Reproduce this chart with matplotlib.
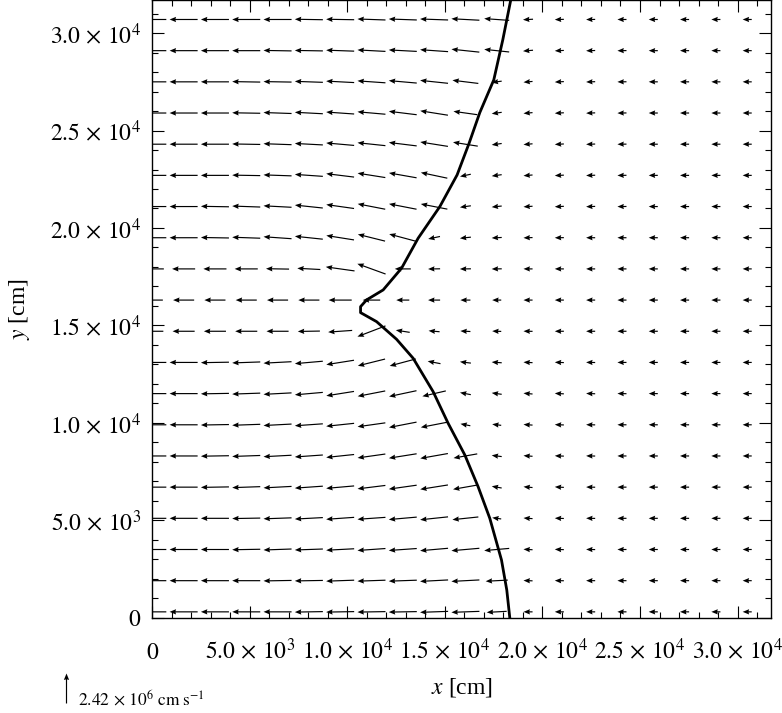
import numpy as np
import matplotlib
matplotlib.use('Agg')
import matplotlib.pyplot as plt
from matplotlib.ticker import MultipleLocator

plt.rcParams['font.family'] = 'serif'
plt.rcParams['font.serif'] = ['Liberation Serif', 'DejaVu Serif']
plt.rcParams['mathtext.fontset'] = 'stix'

# grid of the velocity field (cm)
x_cols = [0, 1605, 3210, 4815, 6420, 8025, 9630, 11235, 12840, 14445,
          16050, 17655, 19260, 20865, 22470, 24075, 25680, 27285, 28890, 30495]
y_rows = [300, 1900, 3500, 5100, 6700, 8300, 9900, 11500, 13100, 14700,
          16300, 17900, 19500, 21100, 22700, 24300, 25900, 27500, 29100, 30700]

# speed in 1e5 cm/s, one row per y_rows entry (bottom to top)
speed = [
    [22.6, 22.6, 22.6, 22.6, 22.6, 22.6, 22.6, 22.6, 22.6, 22.6, 22.6, 16.1, 7.3, 7.3, 7.3, 7.3, 7.3, 7.3, 7.3, 7.3],
    [22.6, 22.6, 22.6, 22.6, 22.6, 22.6, 22.6, 22.6, 22.6, 22.6, 22.6, 17.8, 7.3, 7.3, 7.3, 7.3, 7.3, 7.3, 7.3, 7.3],
    [22.6, 22.6, 22.6, 22.6, 22.6, 22.6, 22.6, 22.6, 22.6, 22.6, 22.6, 20.2, 7.3, 7.3, 7.3, 7.3, 7.3, 7.3, 7.3, 7.3],
    [22.6, 22.6, 22.6, 22.6, 22.6, 22.6, 22.6, 22.6, 22.6, 22.6, 21.0, 7.3, 7.3, 7.3, 7.3, 7.3, 7.3, 7.3, 7.3, 7.3],
    [22.6, 22.6, 22.6, 22.6, 22.6, 22.6, 22.6, 22.6, 22.6, 22.6, 20.2, 8.1, 7.3, 7.3, 7.3, 7.3, 7.3, 7.3, 7.3, 7.3],
    [22.6, 22.6, 22.6, 22.6, 22.6, 22.6, 22.6, 22.6, 22.6, 22.6, 19.4, 8.1, 7.3, 7.3, 7.3, 7.3, 7.3, 7.3, 7.3, 7.3],
    [22.6, 22.6, 22.6, 22.6, 22.6, 22.6, 22.6, 22.6, 22.6, 21.8, 8.1, 7.3, 7.3, 7.3, 7.3, 7.3, 7.3, 7.3, 7.3, 7.3],
    [22.6, 22.6, 22.6, 22.6, 22.6, 22.6, 22.6, 22.6, 22.6, 19.4, 8.9, 8.1, 7.3, 7.3, 7.3, 7.3, 7.3, 7.3, 7.3, 7.3],
    [22.6, 22.6, 22.6, 22.6, 22.6, 22.6, 22.6, 22.6, 21.8, 10.5, 8.9, 8.1, 7.3, 7.3, 7.3, 7.3, 7.3, 7.3, 7.3, 7.3],
    [17.8, 17.8, 17.8, 17.8, 17.8, 17.8, 19.4, 24.2, 11.3, 8.9, 8.1, 7.3, 7.3, 7.3, 7.3, 7.3, 7.3, 7.3, 7.3, 7.3],
    [17.0, 17.0, 17.0, 17.0, 17.0, 17.0, 18.6, 14.1, 10.5, 9.7, 8.1, 7.3, 7.3, 7.3, 7.3, 7.3, 7.3, 7.3, 7.3, 7.3],
    [18.6, 18.6, 18.6, 18.6, 18.6, 18.6, 23.4, 24.2, 12.9, 9.7, 8.9, 8.1, 7.3, 7.3, 7.3, 7.3, 7.3, 7.3, 7.3, 7.3],
    [22.6, 22.6, 22.6, 22.6, 22.6, 22.6, 22.6, 22.6, 22.6, 9.7, 8.9, 8.1, 7.3, 7.3, 7.3, 7.3, 7.3, 7.3, 7.3, 7.3],
    [22.6, 22.6, 22.6, 22.6, 22.6, 22.6, 22.6, 22.6, 22.6, 21.8, 8.9, 8.1, 7.3, 7.3, 7.3, 7.3, 7.3, 7.3, 7.3, 7.3],
    [22.6, 22.6, 22.6, 22.6, 22.6, 22.6, 22.6, 22.6, 22.6, 21.8, 8.9, 8.1, 7.3, 7.3, 7.3, 7.3, 7.3, 7.3, 7.3, 7.3],
    [22.6, 22.6, 22.6, 22.6, 22.6, 22.6, 22.6, 22.6, 22.6, 22.6, 20.2, 8.1, 7.3, 7.3, 7.3, 7.3, 7.3, 7.3, 7.3, 7.3],
    [22.6, 22.6, 22.6, 22.6, 22.6, 22.6, 22.6, 22.6, 22.6, 22.6, 19.4, 8.1, 7.3, 7.3, 7.3, 7.3, 7.3, 7.3, 7.3, 7.3],
    [22.6, 22.6, 22.6, 22.6, 22.6, 22.6, 22.6, 22.6, 22.6, 22.6, 21.0, 8.1, 7.3, 7.3, 7.3, 7.3, 7.3, 7.3, 7.3, 7.3],
    [22.6, 22.6, 22.6, 22.6, 22.6, 22.6, 22.6, 22.6, 22.6, 22.6, 22.6, 20.2, 8.1, 7.3, 7.3, 7.3, 7.3, 7.3, 7.3, 7.3],
    [22.6, 22.6, 22.6, 22.6, 22.6, 22.6, 22.6, 22.6, 22.6, 22.6, 22.6, 20.2, 8.1, 7.3, 7.3, 7.3, 7.3, 7.3, 7.3, 7.3],
]

# tilt of each arrow from pointing straight left, degrees (+ = head up)
tilt = [
    [0, 0, 0, 0, 0, -1, -1, -1, -1, -2, -2, -3, 0, 0, 0, 0, 0, 0, 0, 0],
    [0, 0, 0, 0, -1, -1, -2, -2, -2, -3, -3, -3, 2, 1, 0, 0, 0, 0, 0, 0],
    [0, 0, 0, -1, -2, -2, -3, -4, -4, -5, -5, -5, 3, 2, 1, 0, 0, 0, 0, 0],
    [0, 0, 0, -1, -2, -3, -4, -4, -5, -6, -6, 8, 4, 2, 1, 0, 0, 0, 0, 0],
    [0, 0, -1, -2, -3, -4, -5, -7, -8, -9, -10, 10, 5, 3, 1, 0, 0, 0, 0, 0],
    [0, 0, -1, -2, -3, -4, -6, -8, -9, -10, -10, 7, 4, 2, 1, 0, 0, 0, 0, 0],
    [0, 0, -1, -2, -3, -4, -6, -8, -11, -11, 11, 7, 4, 2, 1, 0, 0, 0, 0, 0],
    [0, 0, -1, -2, -3, -5, -9, -11, -12, -13, 11, 8, 5, 3, 2, 1, 0, 0, 0, 0],
    [0, 0, -1, -2, -3, -5, -9, -14, -15, 11, 7, 4, 3, 2, 1, 0, 0, 0, 0, 0],
    [0, 0, 0, 0, 0, -1, -4, -21, 9, 5, 3, 2, 1, 0, 0, 0, 0, 0, 0, 0],
    [0, 0, 0, 0, 0, 0, 0, 0, 0, 0, 0, 0, 0, 0, 0, 0, 0, 0, 0, 0],
    [0, 0, 0, 0, 1, 3, 8, 20, 0, -1, -1, -1, 0, 0, 0, 0, 0, 0, 0, 0],
    [0, 0, 1, 2, 4, 6, 9, 14, 15, -12, -6, -3, -2, -1, 0, 0, 0, 0, 0, 0],
    [0, 0, 1, 2, 3, 6, 8, 11, 11, 11, -8, -6, -4, -3, -2, -1, 0, 0, 0, 0],
    [0, 0, 0, 1, 2, 4, 7, 9, 10, 12, -12, -8, -5, -3, -2, -1, 0, 0, 0, 0],
    [0, 0, 0, 1, 2, 3, 5, 6, 7, 9, 9, -8, -5, -3, -2, -1, 0, 0, 0, 0],
    [0, 0, 0, 1, 2, 3, 4, 5, 7, 9, 8, -8, -5, -3, -2, -1, 0, 0, 0, 0],
    [0, 0, 0, 1, 1, 2, 3, 4, 5, 6, 7, -8, -5, -3, -2, -1, 0, 0, 0, 0],
    [0, 0, 0, 0, 1, 1, 2, 3, 3, 4, 6, 6, -5, -3, -2, -1, 0, 0, 0, 0],
    [0, 0, 0, 0, 0, 1, 1, 2, 2, 2, 3, 4, -3, -2, -1, 0, 0, 0, 0, 0],
]

# front position (cm)
front_x = [18325, 18171, 17900, 17300, 16701, 16020, 15164, 14396, 13371, 12520,
           11496, 10676, 10676, 10984, 11834, 12777, 13627, 14739, 15625, 16240,
           16788, 17505, 17966, 18376]
front_y = [0, 1422, 2962, 5102, 6724, 8352, 9979, 11601, 13315, 14290,
           15194, 15656, 15964, 16308, 16821, 17935, 19475, 21097, 22724, 24351,
           25922, 27600, 29653, 31706]

tick_vals = [0, 5000, 10000, 15000, 20000, 25000, 30000]
tick_labels = [r'$0$', r'$5.0\,\times\,10^{3}$', r'$1.0\,\times\,10^{4}$', r'$1.5\,\times\,10^{4}$',
               r'$2.0\,\times\,10^{4}$', r'$2.5\,\times\,10^{4}$', r'$3.0\,\times\,10^{4}$']

key_value = 24.2  # 2.42e6 cm/s
key_label = r'$2.42\,\times\,10^{6}\ \mathrm{cm}\;\mathrm{s}^{-1}$'

X, Y = np.meshgrid(x_cols, y_rows)
s = np.array(speed)
ang = np.radians(180.0 - np.array(tilt))
U = s * np.cos(ang)
V = s * np.sin(ang)

fig = plt.figure(figsize=(7.82, 7.13), dpi=100)
ax = fig.add_axes([152.3 / 782, 1 - 617.7 / 713, 618.4 / 782, 617.7 / 713])

q = ax.quiver(X, Y, U, V, pivot='middle', angles='xy', scale_units='xy',
              scale=0.015725, width=0.0019, headwidth=4.5, headlength=5.5,
              headaxislength=5, color='black', zorder=2)
ax.plot(front_x, front_y, color='black', lw=2.0, zorder=3)

ax.set_xlim(0, 31700)
ax.set_ylim(0, 31700)
ax.set_xticks(tick_vals, tick_labels)
ax.set_yticks(tick_vals, tick_labels)
ax.xaxis.set_minor_locator(MultipleLocator(1000))
ax.yaxis.set_minor_locator(MultipleLocator(1000))
ax.tick_params(which='both', direction='in', top=True, right=True, width=0.8)
ax.tick_params(which='major', length=8.6, labelsize=17)
ax.tick_params(which='minor', length=4.3)
ax.tick_params(axis='x', which='major', pad=29.5)
ax.tick_params(axis='y', which='major', pad=8)
for lab in ax.get_xticklabels():
    lab.set_verticalalignment('baseline')
for sp in ax.spines.values():
    sp.set_linewidth(1.0)

ax.set_xlabel(r'$x$ [cm]', fontsize=17)
ax.set_ylabel(r'$y$ [cm]', fontsize=17)
ax.xaxis.set_label_coords(0.5, -0.094)
ax.yaxis.set_label_coords(-0.195, 0.5)

ax.quiverkey(q, 65.7 / 782, 1 - 673 / 713, key_value, label='', angle=90,
             coordinates='figure', labelpos='E', color='black')
fig.text(78 / 782, 1 - 705 / 713, key_label, fontsize=12.5, va='baseline', ha='left')

fig.savefig('out.png', dpi=100)
